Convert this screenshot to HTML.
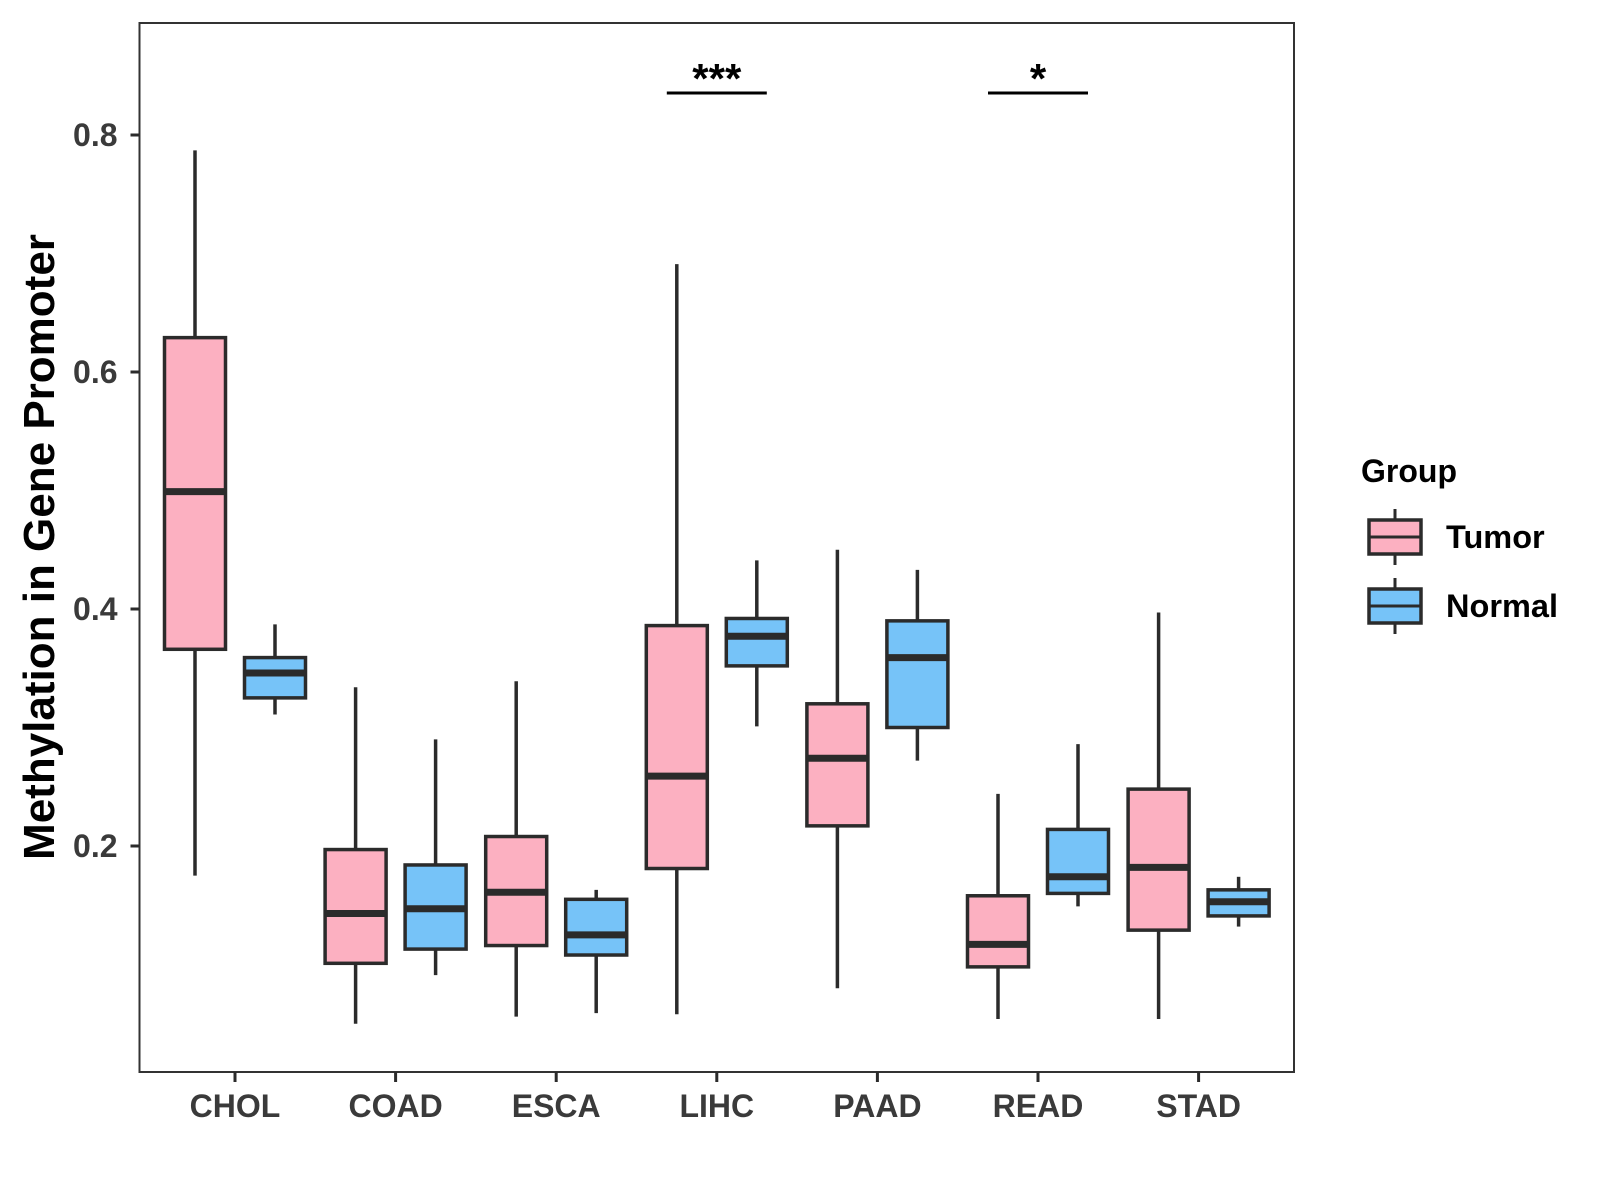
<!DOCTYPE html>
<html><head><meta charset="utf-8"><style>
html,body{margin:0;padding:0;background:#fff;}
svg{display:block;font-family:"Liberation Sans",Arial,sans-serif;font-weight:bold;}
</style></head><body>
<svg id="chart" width="1600" height="1200" viewBox="0 0 1600 1200">
<g id="plot"></g>
<g id="legend"></g>
</svg>
<script>
const categories = ["CHOL","COAD","ESCA","LIHC","PAAD","READ","STAD"];
// [lowWhisker, Q1, median, Q3, highWhisker]
const tumorStats = [
 [0.175,0.366,0.499,0.629,0.787],
 [0.050,0.101,0.143,0.197,0.334],
 [0.056,0.116,0.161,0.208,0.339],
 [0.058,0.181,0.259,0.386,0.691],
 [0.080,0.217,0.274,0.320,0.450],
 [0.054,0.098,0.117,0.158,0.244],
 [0.054,0.129,0.182,0.248,0.397]
];
const normalStats = [
 [0.311,0.325,0.346,0.359,0.387],
 [0.091,0.113,0.147,0.184,0.290],
 [0.059,0.108,0.125,0.155,0.163],
 [0.301,0.352,0.377,0.392,0.441],
 [0.272,0.300,0.359,0.390,0.433],
 [0.149,0.160,0.174,0.214,0.286],
 [0.132,0.141,0.153,0.163,0.174]
];
const yTicks = [0.2,0.4,0.6,0.8];
const sigCategories = ["LIHC","READ"];
const sigLabels = ["***","*"];
const groups = ["Tumor","Normal"];

const NS="http://www.w3.org/2000/svg";
const L=139.5,T=23,R=1294,B=1072;
const y=v=>846-(v-0.2)*1185;
const x=i=>235+160.6*i;
const ink="#2b2b2b", pink="#FCB0C1", blue="#76C3F8";
function mk(tag,attrs,parent){const e=document.createElementNS(NS,tag);for(const k in attrs)e.setAttribute(k,attrs[k]);parent.appendChild(e);return e;}
const plot=document.getElementById('plot');
const legend=document.getElementById('legend');

let fr=mk('rect',{x:L,y:T,width:R-L,height:B-T,fill:'none',stroke:'#333','stroke-width':2},plot);



yTicks.forEach(v=>{
  const t=mk('line',{x1:L-9,x2:L,y1:y(v),y2:y(v),stroke:ink,'stroke-width':3},plot);
  
  
  const lb=mk('text',{x:L-22,y:y(v)+11,'text-anchor':'end','font-size':32,fill:'#3a3a3a'},plot);
  lb.textContent=v.toFixed(1);
  
  
});
categories.forEach((c,i)=>{
  const t=mk('line',{x1:x(i),x2:x(i),y1:B,y2:B+10,stroke:ink,'stroke-width':3},plot);
  
  
  const lb=mk('text',{x:x(i),y:1117,'text-anchor':'middle','font-size':32,fill:'#3a3a3a'},plot);
  lb.textContent=c;
  
  
});
const yt=mk('text',{x:0,y:0,'text-anchor':'middle','font-size':44,fill:'#000',transform:'translate(54,547) rotate(-90)'},plot);
yt.textContent='Methylation in Gene Promoter';



function box(cx,s,fill,parent,w){
  const g=mk('g',{},parent);
  
  
  mk('line',{x1:cx,x2:cx,y1:y(s[0]),y2:y(s[4]),stroke:ink,'stroke-width':3.5},g);
  mk('rect',{x:cx-w/2,y:y(s[3]),width:w,height:y(s[1])-y(s[3]),fill:fill,stroke:ink,'stroke-width':3.5},g);
  mk('line',{x1:cx-w/2,x2:cx+w/2,y1:y(s[2]),y2:y(s[2]),stroke:ink,'stroke-width':7},g);
  return g;
}
categories.forEach((c,i)=>{
  const a=box(x(i)-40,tumorStats[i],pink,plot,61);
  
  const b=box(x(i)+40,normalStats[i],blue,plot,61);
  
});
sigCategories.forEach((c,k)=>{
  const i=categories.indexOf(c);
  const ln=mk('line',{x1:x(i)-50,x2:x(i)+50,y1:93,y2:93,stroke:'#000','stroke-width':3},plot);
  
  
  const t=mk('text',{x:x(i),y:93,'text-anchor':'middle','font-size':42,fill:'#000'},plot);
  t.textContent=sigLabels[k];
  
  
});

const lt=mk('text',{x:1361,y:482,'font-size':32,fill:'#000'},legend);
lt.textContent='Group';


groups.forEach((g,k)=>{
  const cy=537+k*69;
  const e=mk('g',{},legend);
  
  
  mk('line',{x1:1395,x2:1395,y1:cy-28,y2:cy+28,stroke:ink,'stroke-width':3},e);
  mk('rect',{x:1369,y:cy-17,width:52,height:34,fill:k?blue:pink,stroke:ink,'stroke-width':3.5},e);
  mk('line',{x1:1369,x2:1421,y1:cy,y2:cy,stroke:ink,'stroke-width':3},e);
  const t=mk('text',{x:1446,y:cy+11,'font-size':32.5,fill:'#000'},e);
  t.textContent=g;
});
</script>
</body></html>
